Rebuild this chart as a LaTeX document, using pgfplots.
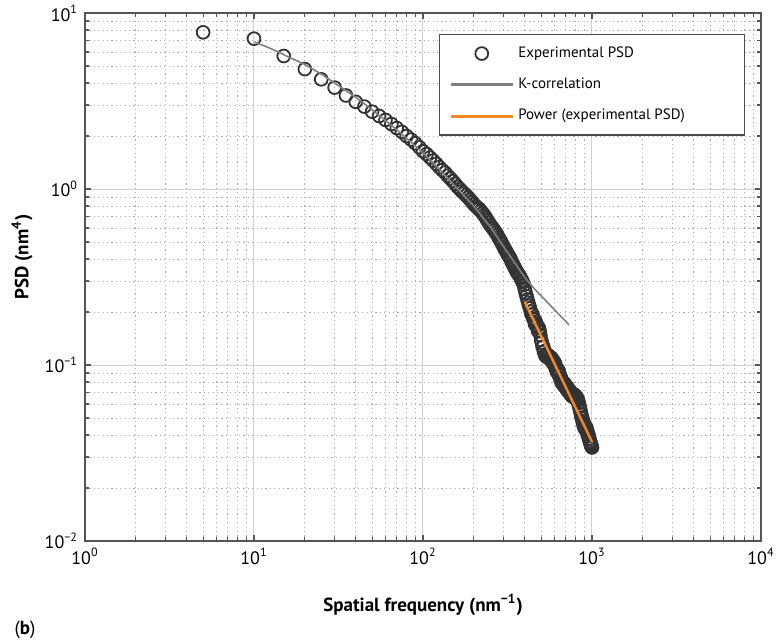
\documentclass[border=0pt]{standalone}
\usepackage{fontspec}
\setmainfont{PT Sans}
\usepackage{pgfplots}
\usepackage{pgfplotstable}
\pgfplotsset{compat=1.18}
\definecolor{psdorange}{RGB}{245,135,31}
\definecolor{axgray}{RGB}{85,85,85}
\definecolor{kgray}{RGB}{128,128,128}
\pgfplotsset{
  markleg/.style={legend image code/.code={\draw[mark repeat=1,mark phase=1,##1] plot coordinates {(15.5pt,0pt)};}},
  lineleg/.style={legend image code/.code={\draw[##1, line width=1.5pt] (0pt,0pt) -- (31pt,0pt);}},
}

\pgfplotstableread{
f P
5 7.77
10 7.15
15 5.70
20 4.80
25 4.20
30 3.77
35 3.40
40 3.13
45 2.94
50 2.75
55 2.60
60 2.47
65 2.34
70 2.22
75 2.11
80 2.00
85 1.91
90 1.82
95 1.73
100 1.64
105 1.58
110 1.51
115 1.45
120 1.39
125 1.33
130 1.28
135 1.24
140 1.19
145 1.15
150 1.11
155 1.07
160 1.03
165 1.00
170 0.97
175 0.945
180 0.92
185 0.895
190 0.87
195 0.845
200 0.82
205 0.80
210 0.785
215 0.77
220 0.75
225 0.73
230 0.71
235 0.69
240 0.665
245 0.645
250 0.625
255 0.61
260 0.595
265 0.58
270 0.565
275 0.55
280 0.53
285 0.515
290 0.50
295 0.485
300 0.47
305 0.455
310 0.445
315 0.43
320 0.42
325 0.41
330 0.40
335 0.385
340 0.375
345 0.365
350 0.355
355 0.345
360 0.338
365 0.33
370 0.325
375 0.318
380 0.31
385 0.302
390 0.295
395 0.285
400 0.270
405 0.257
410 0.246
415 0.236
420 0.226
425 0.217
430 0.210
435 0.201
440 0.193
445 0.194
450 0.183
455 0.182
460 0.171
465 0.176
470 0.166
475 0.167
480 0.156
485 0.162
490 0.156
495 0.148
500 0.139
505 0.134
510 0.127
515 0.127
520 0.119
525 0.120
530 0.113
535 0.115
540 0.111
545 0.114
550 0.113
555 0.113
560 0.110
565 0.111
570 0.107
575 0.110
580 0.105
585 0.107
590 0.102
595 0.105
600 0.0998
605 0.102
610 0.0955
615 0.0969
620 0.0915
625 0.0947
630 0.0905
635 0.0927
640 0.0868
645 0.0881
650 0.0832
655 0.0845
660 0.0799
665 0.0812
670 0.0783
675 0.0796
680 0.0768
685 0.0789
690 0.0755
695 0.0774
700 0.0741
705 0.0759
710 0.0727
715 0.0746
720 0.0714
725 0.0732
730 0.0702
735 0.0719
740 0.0689
745 0.0706
750 0.0677
755 0.0694
760 0.0666
765 0.0689
770 0.0661
775 0.0683
780 0.0662
785 0.0678
790 0.0657
795 0.0673
800 0.0647
805 0.0661
810 0.0636
815 0.0651
820 0.0627
825 0.0635
830 0.0606
835 0.0610
840 0.0581
845 0.0580
850 0.0553
855 0.0551
860 0.0525
865 0.0524
870 0.0499
875 0.0503
880 0.0478
885 0.0482
890 0.0458
895 0.0466
900 0.0443
905 0.0451
910 0.0433
915 0.0447
920 0.0429
925 0.0441
930 0.0424
935 0.0427
940 0.0407
945 0.0410
950 0.0394
955 0.0398
960 0.0382
965 0.0381
970 0.0370
975 0.0366
980 0.0359
985 0.0355
990 0.0348
995 0.0344
1000 0.0340
}\psddata

\pgfplotstableread{
f P
10 6.85
12 6.40
14 6.00
16 5.62
18 5.35
20 5.10
25 4.50
30 4.00
35 3.62
40 3.32
50 2.82
60 2.45
70 2.17
80 1.94
100 1.60
120 1.35
150 1.07
200 0.80
250 0.61
300 0.47
350 0.38
400 0.315
450 0.275
500 0.247
550 0.225
600 0.206
650 0.190
700 0.177
730 0.169
}\kcorr

\pgfplotstableread{
f P
400 0.229
1000 0.0366
}\powerfit

\begin{document}
\begin{tikzpicture}
\useasboundingbox (-42.5pt,-51pt) rectangle (346.5pt,270.5pt);
\begin{axis}[
  at={(0,0)}, anchor=south west,
  scale only axis, width=338pt, height=264pt,
  clip mode=individual,
  xmode=log, ymode=log,
  xmin=1, xmax=10000, ymin=0.01, ymax=10,
  xtick={1,10,100,1000,10000},
  xticklabels={10\textsuperscript{0},10\textsuperscript{1},10\textsuperscript{2},10\textsuperscript{3},10\textsuperscript{4}},
  minor xtick={2,3,4,5,6,7,8,9,20,30,40,50,60,70,80,90,200,300,400,500,600,700,800,900,2000,3000,4000,5000,6000,7000,8000,9000},
  ytick={0.01,0.1,1,10},
  yticklabels={10\textsuperscript{−2},10\textsuperscript{−1},10\textsuperscript{0},10\textsuperscript{1}},
  minor ytick={0.02,0.03,0.04,0.05,0.06,0.07,0.08,0.09,0.2,0.3,0.4,0.5,0.6,0.7,0.8,0.9,2,3,4,5,6,7,8,9},
  tick align=inside,
  major tick length=3pt, minor tick length=1.8pt,
  grid=both,
  major grid style={black!18, line width=0.5pt},
  minor grid style={black!32, line width=0.4pt, dash pattern=on 0.6pt off 1.6pt},
  axis line style={axgray, line width=0.9pt},
  every tick/.style={axgray, line width=0.6pt},
  tick label style={font=\fontsize{9}{10}\selectfont, text=black},
  xlabel={Spatial frequency (nm\textsuperscript{−1})},
  ylabel={PSD (nm\textsuperscript{4})},
  every axis x label/.style={at={(axis description cs:0.5,-0.1212)}, anchor=center, font=\bfseries\fontsize{9.5}{11}\selectfont},
  every axis y label/.style={at={(axis description cs:-0.0932,0.5379)}, rotate=90, anchor=center, font=\bfseries\fontsize{9.5}{11}\selectfont},
  legend cell align=left,
  legend style={at={(0.9763,0.9602)}, anchor=north east, draw=black!70, line width=0.7pt, fill=white,
    font=\fontsize{7.5}{9}\selectfont, inner xsep=5pt, inner ysep=4pt, row sep=4.8pt},
]
\addplot[only marks, mark=o, mark size=3.2pt, mark options={draw=black!80, line width=0.9pt}, markleg]
  table[x=f, y=P] {\psddata};
\addlegendentry{\makebox[106pt][l]{Experimental PSD}}
\addplot[kgray, line width=0.8pt, no marks, lineleg]
  table[x=f, y=P] {\kcorr};
\addlegendentry{\makebox[106pt][l]{K-correlation}}
\addplot[psdorange, line width=1.2pt, no marks, lineleg]
  table[x=f, y=P] {\powerfit};
\addlegendentry{\makebox[106pt][l]{Power (experimental PSD)}}
\end{axis}
\node[font=\fontsize{9.5}{11}\selectfont] at (-30pt,-44.5pt) {(\textbf{b})};
\end{tikzpicture}
\end{document}
